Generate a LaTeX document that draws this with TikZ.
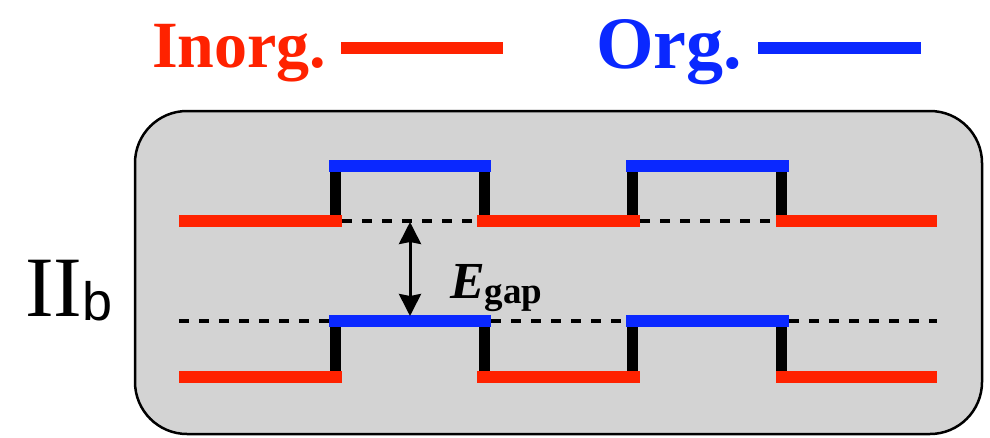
\documentclass[tikz,border=0pt]{standalone}
\usepackage{fontspec}
\setmainfont{Liberation Serif}
\newfontfamily\arialfont{Liberation Sans}
\usetikzlibrary{arrows.meta}
\definecolor{inorg}{RGB}{255,34,0}
\definecolor{org}{RGB}{10,40,255}
\definecolor{boxgray}{RGB}{211,211,211}
\tikzset{
  inorgline/.style={draw=inorg,line width=12pt},
  orgline/.style={draw=org,line width=12pt},
  wall/.style={draw=black,line width=11pt},
  guide/.style={draw=black,line width=4.5pt,dash pattern=on 10pt off 10pt},
  gaparrow/.style={draw=black,line width=3pt,{Stealth[length=22pt,width=22pt,inset=2pt]}-{Stealth[length=22pt,width=22pt,inset=2pt]}},
  panel/.style={draw=black,fill=boxgray,line width=2.5pt,rounded corners=52pt},
  legendtxt/.style={anchor=base west,inner sep=0pt,font=\bfseries}
}
\begin{document}
\begin{tikzpicture}[x=1pt,y=-1pt]
\useasboundingbox (0,0) rectangle (990,437);
% legend
\node[legendtxt,text=inorg] (inorgtxt) at (152,67) {\fontsize{66}{66}\selectfont Inorg.};
\node[legendtxt,text=org] (orgtxt) at (596,68) {\fontsize{74}{74}\selectfont Org.};
\coordinate (inorgA) at (341,48); \coordinate (inorgB) at (503,48);
\coordinate (orgA) at (758,48); \coordinate (orgB) at (921,48);
\draw[inorgline] (inorgA) -- (inorgB);
\draw[orgline] (orgA) -- (orgB);
% panel
\draw[panel] (135,111) rectangle (982,434);
\node[anchor=base west,inner sep=0pt,font=\fontsize{86}{86}\selectfont] (typelbl) at (25,316)
  {II\raisebox{-4pt}{\arialfont\fontsize{54}{54}\selectfont b}};
% dashed guides
\draw[guide] (342,221) -- (477,221);
\draw[guide] (640,221) -- (776,221);
\draw[guide] (179,321) -- (329,321);
\draw[guide] (491,321) -- (626,321);
\draw[guide] (789,321) -- (937,321);
% band profiles: top y, bottom y
\foreach \yt/\yb in {166/221, 321/377}{
  \foreach \xw in {335,484,632,781}{
    \draw[wall] (\xw,\yt) -- (\xw,\yb);
  }
  \draw[inorgline] (179,\yb) -- (342,\yb);
  \draw[inorgline] (477,\yb) -- (640,\yb);
  \draw[inorgline] (776,\yb) -- (937,\yb);
  \draw[orgline] (329,\yt) -- (491,\yt);
  \draw[orgline] (626,\yt) -- (789,\yt);
}
% gap arrow
\coordinate (gaptop) at (410,222);
\coordinate (gapbot) at (410,316);
\draw[gaparrow] (gaptop) -- (gapbot);
\node[anchor=base west,inner sep=0pt] (egap) at (450,298)
  {{\fontsize{52}{52}\selectfont\bfseries\itshape E}\raisebox{-5pt}{\fontsize{37}{37}\selectfont\bfseries gap}};
\end{tikzpicture}
\end{document}
